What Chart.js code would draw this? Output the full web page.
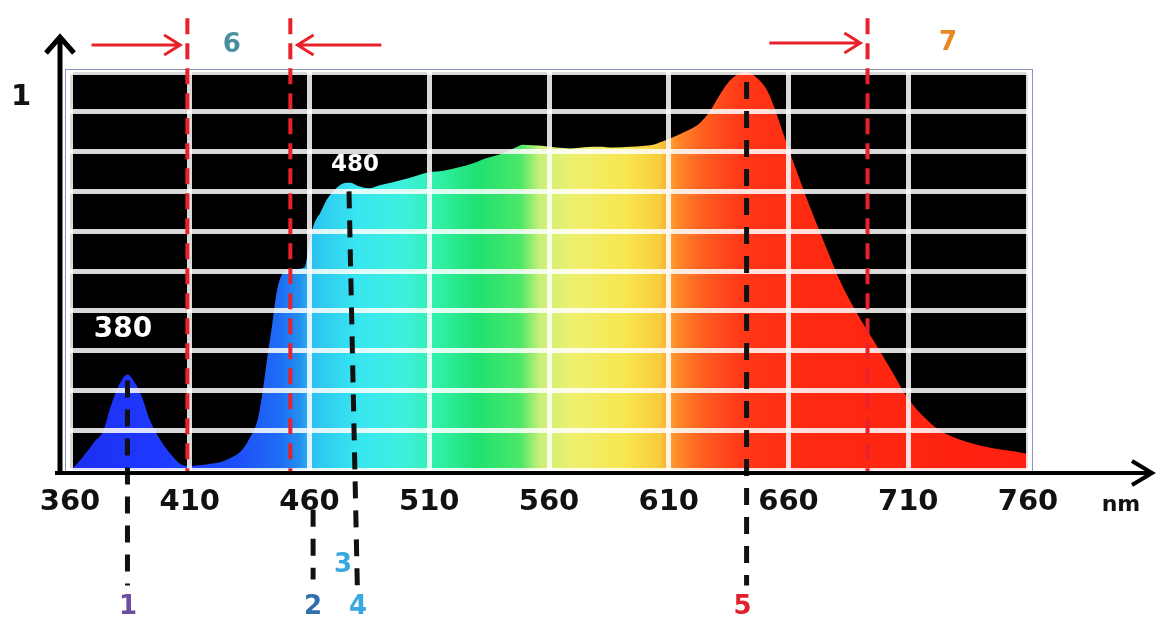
<!DOCTYPE html>
<html><head><meta charset="utf-8">
<script src="https://cdn.jsdelivr.net/npm/chart.js@4/dist/chart.umd.min.js"></script>
<style>html,body{margin:0;padding:0;background:#fff;overflow:hidden}canvas{display:block}</style>
</head><body>
<canvas id="c" width="1159" height="619"></canvas>
<script>
// ---- data ----
const wavelengths = [360,362,365,367,370,374,377,381,384,387,390.5,393,396,400,403,406,410,414,418,423,427,431,435,438.5,440.5,442.3,444.3,446.4,449,454,458,460.2,462,464.4,467.3,471.5,474,477,481,485,489,494,498,502,506,510,516,522.8,528,534,538,542.5,546,549,553,558,563,569,575,581,587,594,599,603.4,607,610.5,615,619,623,627,631,635,639,642.5,646.5,651,653.5,657,661,665,669,673,677,681.5,688.6,695.3,703.6,709.5,717.8,723,728.7,736,742.9,750,757.9,760];
const intensity   = [0,0.01,0.03,0.045,0.07,0.1,0.16,0.22,0.24,0.22,0.176,0.13,0.093,0.055,0.033,0.015,0.01,0.012,0.015,0.02,0.03,0.045,0.08,0.13,0.2,0.28,0.36,0.45,0.495,0.505,0.51,0.58,0.62,0.645,0.68,0.71,0.72,0.722,0.712,0.708,0.715,0.722,0.728,0.734,0.742,0.748,0.752,0.761,0.77,0.784,0.79,0.8,0.81,0.817,0.816,0.814,0.81,0.808,0.811,0.812,0.81,0.812,0.814,0.817,0.825,0.833,0.845,0.856,0.872,0.9,0.94,0.975,0.995,1.0,0.987,0.955,0.92,0.86,0.79,0.725,0.66,0.6,0.54,0.475,0.394,0.327,0.244,0.183,0.126,0.1,0.083,0.068,0.058,0.05,0.043,0.04];
const tickValues  = [360,410,460,510,560,610,660,710,760];
const yLabelText  = ['1'];
const yLabelValue = [0.937];

// red dashed boundary lines and red arrows
const boundaryNm     = [409, 452, 693];
const arrowFromNm    = [369, 490, 652];
const arrowToNm      = [406, 455, 690];
const arrowValue     = [1.068, 1.068, 1.073];

// black dashed marker lines
const markerTopNm    = [384, 461.5, 476.5, 642.5];
const markerBottomNm = [384, 461.5, 480, 642.5];
const markerTopVal   = [0.225, -0.1, 0.70, 0.975];
const markerBotVal   = [-0.29, -0.275, -0.3, -0.29];

// numbered labels
const numText  = ['1','2','3','4','5','6','7'];
const numNm    = [384.2, 461.5, 474, 480.3, 640.8, 427.6, 726.6];
const numValue = [-0.344, -0.344, -0.239, -0.344, -0.344, 1.068, 1.073];

// peak labels
const peakText  = ['380','480'];
const peakNm    = [382.1, 479];
const peakValue = [0.352, 0.766];

const unitText = 'nm';
const unitNm = 798.8, unitValue = -0.088;

// ---- styles ----
const numColors = ['#6b4f9e','#2f6fae','#38a8e0','#38a8e0','#e0202a','#4a8f9f','#e8861f'];
const gradStops = [
  [360,'#1c2ef2'],[400,'#1f3aff'],[430,'#1d4ff8'],[448,'#1f6ef4'],[456,'#2390ee'],
  [462,'#2cc4f0'],[480,'#38e6f0'],[500,'#3ef0dc'],[515,'#2ef0a2'],[530,'#20e070'],
  [548,'#4ae868'],[556,'#c8f078'],[570,'#eef070'],[592,'#f8e650'],[606,'#f8cc3c'],
  [613,'#ff8c2c'],[625,'#ff5c20'],[640,'#ff3818'],[665,'#ff2a12'],[760,'#ff2010']
];
const FONT = "'DejaVu Sans', Verdana, sans-serif";

const deco = {
  id: 'deco',
  beforeDraw(chart) {
    const {ctx, chartArea: a} = chart;
    ctx.save();
    ctx.fillStyle = '#000';
    ctx.fillRect(a.left, a.top, a.right - a.left, a.bottom - a.top);
    ctx.strokeStyle = '#8a96c0';
    ctx.lineWidth = 1;
    ctx.strokeRect(a.left - 4.5, a.top - 2.5, a.right - a.left + 9, a.bottom - a.top + 4);
    ctx.restore();
  },
  afterDraw(chart) {
    const {ctx, chartArea: a, scales: {x, y}} = chart;
    ctx.save();
    ctx.lineCap = 'butt';
    // red dashed boundary lines
    ctx.strokeStyle = '#e8222a';
    ctx.lineWidth = 4;
    ctx.setLineDash([16, 9]);
    boundaryNm.forEach(nm => {
      const px = x.getPixelForValue(nm);
      ctx.beginPath();
      ctx.moveTo(px, y.getPixelForValue(1.135));
      ctx.lineTo(px, a.bottom + 5);
      ctx.stroke();
    });
    ctx.setLineDash([]);
    // red arrows
    ctx.lineWidth = 3;
    arrowFromNm.forEach((f, i) => {
      const x1 = x.getPixelForValue(f), x2 = x.getPixelForValue(arrowToNm[i]);
      const py = y.getPixelForValue(arrowValue[i]);
      const dir = Math.sign(x2 - x1);
      ctx.beginPath();
      ctx.moveTo(x1, py); ctx.lineTo(x2, py);
      ctx.moveTo(x2 - dir * 16, py - 10); ctx.lineTo(x2, py); ctx.lineTo(x2 - dir * 16, py + 10);
      ctx.stroke();
    });
    // black dashed markers
    ctx.strokeStyle = '#111';
    ctx.lineWidth = 5;
    ctx.setLineDash([17, 12]);
    markerTopNm.forEach((t, i) => {
      ctx.beginPath();
      ctx.moveTo(x.getPixelForValue(t), y.getPixelForValue(markerTopVal[i]));
      ctx.lineTo(x.getPixelForValue(markerBottomNm[i]), y.getPixelForValue(markerBotVal[i]));
      ctx.stroke();
    });
    ctx.setLineDash([]);
    // axes with arrows
    ctx.strokeStyle = '#000';
    ctx.lineWidth = 5;
    const ax = a.left - 10, ay = a.bottom + 3;
    ctx.beginPath();
    ctx.moveTo(ax, ay + 2); ctx.lineTo(ax, a.top - 35);
    ctx.moveTo(ax - 14, a.top - 19); ctx.lineTo(ax, a.top - 35); ctx.lineTo(ax + 14, a.top - 19);
    ctx.stroke();
    ctx.lineWidth = 4;
    const xr = a.right + 124;
    ctx.beginPath();
    ctx.moveTo(a.left - 15, ay); ctx.lineTo(xr, ay);
    ctx.moveTo(xr - 20, ay - 12); ctx.lineTo(xr, ay); ctx.lineTo(xr - 20, ay + 12);
    ctx.stroke();
    // texts
    ctx.textAlign = 'center';
    ctx.textBaseline = 'middle';
    ctx.font = 'bold 26px ' + FONT;
    numText.forEach((t, i) => {
      ctx.fillStyle = numColors[i];
      ctx.fillText(t, x.getPixelForValue(numNm[i]), y.getPixelForValue(numValue[i]));
    });
    ctx.fillStyle = '#fff';
    ctx.font = 'bold 28px ' + FONT;
    ctx.fillText(peakText[0], x.getPixelForValue(peakNm[0]), y.getPixelForValue(peakValue[0]));
    ctx.font = 'bold 23px ' + FONT;
    ctx.fillText(peakText[1], x.getPixelForValue(peakNm[1]), y.getPixelForValue(peakValue[1]));
    ctx.fillStyle = '#111';
    ctx.font = 'bold 22px ' + FONT;
    ctx.fillText(unitText, x.getPixelForValue(unitNm), y.getPixelForValue(unitValue));
    ctx.font = 'bold 29px ' + FONT;
    yLabelText.forEach((t, i) => ctx.fillText(t, a.left - 49, y.getPixelForValue(yLabelValue[i])));
    ctx.restore();
  }
};

new Chart(document.getElementById('c'), {
  type: 'line',
  data: {
    datasets: [{
      data: wavelengths.map((w, i) => ({x: w, y: intensity[i]})),
      fill: 'origin',
      borderWidth: 0,
      pointRadius: 0,
      cubicInterpolationMode: 'monotone',
      backgroundColor(ctx) {
        const {chart} = ctx;
        const a = chart.chartArea;
        if (!a) return '#2040ff';
        const g = chart.ctx.createLinearGradient(a.left, 0, a.right, 0);
        gradStops.forEach(([nm, c]) => g.addColorStop((nm - 360) / 400, c));
        return g;
      }
    }]
  },
  options: {
    responsive: false,
    animation: false,
    devicePixelRatio: 1,
    layout: {padding: {left: 0, top: 72, right: 131, bottom: 0}},
    plugins: {legend: {display: false}, tooltip: {enabled: false}},
    scales: {
      x: {
        type: 'linear', min: 360, max: 760, offset: false,
        afterBuildTicks(scale) { scale.ticks = tickValues.map(v => ({value: v})); },
        afterFit(scale) { scale.height = 149; },
        grid: {color: 'rgba(255,255,255,0.85)', lineWidth: 5, drawTicks: false, z: 1},
        border: {display: false},
        ticks: {font: {family: FONT, weight: 'bold', size: 29}, color: '#111', padding: 15, maxRotation: 0, autoSkip: false}
      },
      y: {
        type: 'linear', min: 0, max: 1,
        afterFit(scale) { scale.width = 70; },
        grid: {color: 'rgba(255,255,255,0.85)', lineWidth: 5, drawTicks: false, z: 1},
        border: {display: false},
        ticks: {display: false, stepSize: 0.1}
      }
    }
  },
  plugins: [deco]
});
</script>
</body></html>
